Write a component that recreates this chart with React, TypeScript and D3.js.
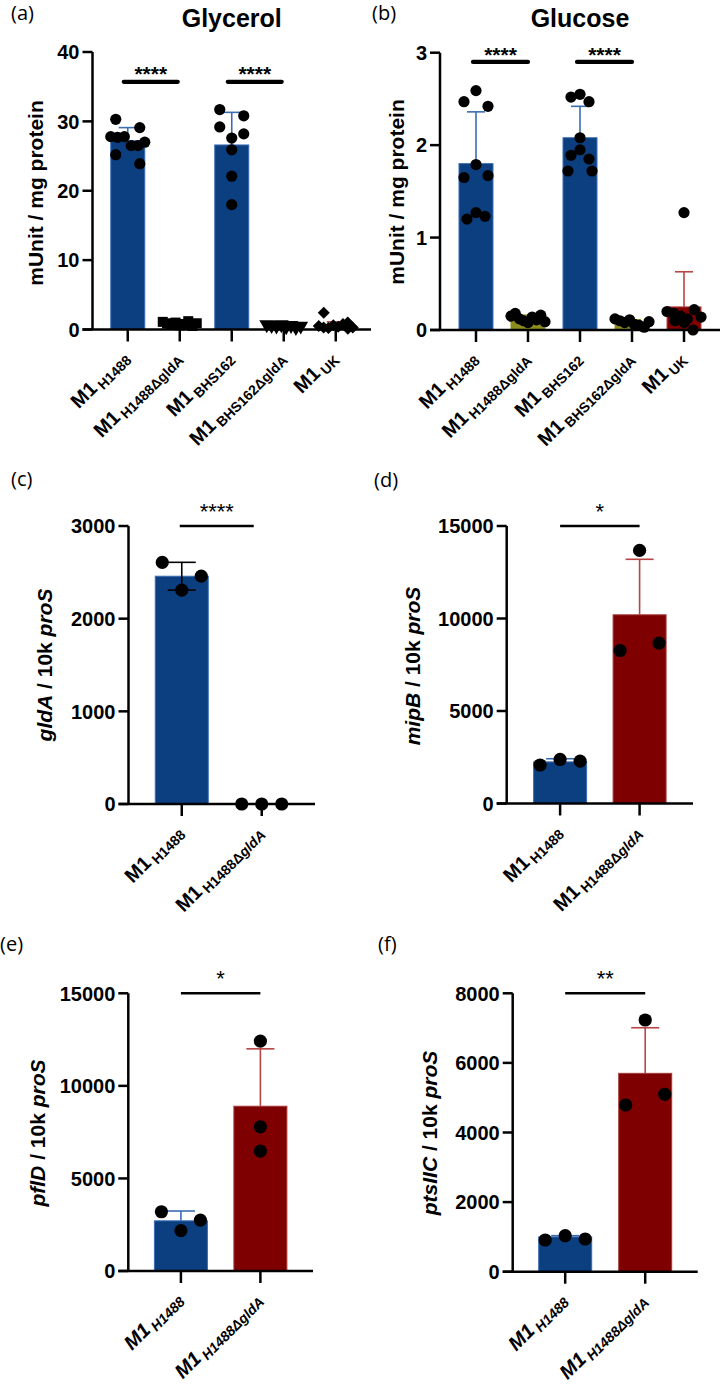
import React from 'react';
import * as d3 from 'd3';

const ARIAL = '"Liberation Sans", Arial, Helvetica, sans-serif';
const LETTER_FONT = '"Open Sans", "Noto Sans", sans-serif';
const BLUE = '#0b3f80';
const BLUE_LINE = '#3c6cb2';
const RED = '#7e0000';
const RED_LINE = '#b84444';
const OLIVE = '#8e8e1e';
const INK = '#000';

// ---------- Data: panels (a) and (b) ----------
const strainCategories = ['H1488', 'H1488ΔgldA', 'BHS162', 'BHS162ΔgldA', 'UK'];

const glycerolTicks = [0, 10, 20, 30, 40];
const glycerolMeans = [27.2, 0.85, 26.6, 0.55, 0.7];
const glycerolSD = [1.9, 0.25, 4.7, 0.15, 0.4];
const glycerolH1488 = [30.3, 29.1, 27.8, 27.7, 27.8, 26.5, 26.5, 25.2, 23.9, 27.0];
const glycerolH1488dgldA = [1.1, 0.9, 0.7, 1.0, 0.6, 0.8, 1.2, 0.5, 0.9];
const glycerolBHS162 = [31.7, 30.8, 29.2, 28.2, 27.6, 25.9, 22.1, 18.0];
const glycerolBHS162dgldA = [0.7, 0.6, 0.5, 0.7, 0.4, 0.6, 0.3, 0.5];
const glycerolUK = [2.4, 1.0, 0.5, 0.3, 0.2, 0.6, 0.4, 0.8, 0.1, 0.3];

const glucoseTicks = [0, 1, 2, 3];
const glucoseMeans = [1.8, 0.12, 2.08, 0.08, 0.25];
const glucoseSD = [0.56, 0.04, 0.34, 0.03, 0.38];
const glucoseH1488 = [2.59, 2.47, 2.42, 1.79, 1.65, 1.67, 1.2, 1.27, 1.23];
const glucoseH1488dgldA = [0.15, 0.18, 0.12, 0.1, 0.08, 0.14, 0.11, 0.16, 0.09];
const glucoseBHS162 = [2.52, 2.55, 2.47, 2.08, 1.89, 1.95, 1.85, 1.72, 1.72];
const glucoseBHS162dgldA = [0.12, 0.1, 0.08, 0.11, 0.06, 0.05, 0.03, 0.09];
const glucoseUK = [1.27, 0.2, 0.18, 0.15, 0.12, 0.1, 0.22, 0.08, 0.0, 0.14];

// ---------- Data: panels (c)-(f) ----------
const qpcrCategories = ['H1488', 'H1488ΔgldA'];

const gldATicks = [0, 1000, 2000, 3000];
const gldAMeans = [2458, 0];
const gldASD = [150, 0];
const gldAWT = [2607, 2308, 2459];
const gldAMut = [0, 0, 0];

const mipBTicks = [0, 5000, 10000, 15000];
const mipBMeans = [2250, 10200];
const mipBSD = [170, 3000];
const mipBWT = [2080, 2380, 2290];
const mipBMut = [8270, 13680, 8670];

const pflDTicks = [0, 5000, 10000, 15000];
const pflDMeans = [2710, 8900];
const pflDSD = [530, 3100];
const pflDWT = [3200, 2180, 2750];
const pflDMut = [7790, 12420, 6480];

const ptsIICTicks = [0, 2000, 4000, 6000, 8000];
const ptsIICMeans = [1000, 5700];
const ptsIICSD = [35, 1310];
const ptsIICWT = [911, 1034, 940];
const ptsIICMut = [4790, 7233, 5098];

type Shape = 'circle' | 'square' | 'triangle' | 'diamond';

interface PanelCfg {
  letter: string; letterX: number; letterY: number;
  title?: string;
  axisX: number; axisRight: number; yTop: number; yBottom: number;
  ticks: number[];
  cats: string[]; means: number[]; sds: number[]; points: number[][];
  colors: string[]; barStroke: string[]; errColors: string[]; errBoth: boolean; shapes: Shape[];
  padding: number; barW: number; dotR: number; capW: number;
  rowH: number; step: number; pairStep: number; maxHalf: number;
  sigPairs: [number, number][]; sigValue: number; sigText: string; sigBold: boolean;
  sigWidth: number; sigOff: [number, number]; starSize: number; starDy: number;
  ylabel: React.ReactNode; ylabelX: number; ylabelY: number;
  italicX: boolean;
}

function swarmOffsets(values: number[], y: (v: number) => number, rowH: number, step: number, pairStep: number, maxHalf: number): number[] {
  const idx = values.map((_, i) => i).sort((a, b) => y(values[a]) - y(values[b]));
  const offsets = new Array(values.length).fill(0);
  let row: number[] = [];
  let startY: number | null = null;
  const flush = () => {
    const r = [...row].sort((a, b) => a - b);
    const n = r.length;
    if (n === 1) offsets[r[0]] = 0;
    else if (n === 2) { offsets[r[0]] = -pairStep; offsets[r[1]] = pairStep; }
    else {
      const s = Math.min(step, (2 * maxHalf) / (n - 1));
      r.forEach((k, i) => { offsets[k] = (i - (n - 1) / 2) * s; });
    }
  };
  for (const k of idx) {
    const yy = y(values[k]);
    if (startY === null) { startY = yy; row = [k]; }
    else if (yy - startY < rowH) row.push(k);
    else { flush(); row = [k]; startY = yy; }
  }
  if (row.length) flush();
  return offsets;
}

function symbolPath(shape: Shape, r: number): { d: string; rot: number } {
  if (shape === 'circle') return { d: d3.symbol(d3.symbolCircle, Math.PI * r * r)() as string, rot: 0 };
  if (shape === 'square') return { d: d3.symbol(d3.symbolSquare, 100)() as string, rot: 0 };
  if (shape === 'triangle') return { d: d3.symbol(d3.symbolTriangle, 95)() as string, rot: 180 };
  return { d: d3.symbol(d3.symbolSquare, 72)() as string, rot: 45 };
}

function CatLabel({ name, italic }: { name: string; italic: boolean }) {
  const parts = name.split('Δ');
  return (
    <text textAnchor="end" fontFamily={ARIAL} fontWeight="bold" fontSize={20} fontStyle={italic ? 'italic' : 'normal'} fill={INK}>
      M1
      <tspan fontSize={14} dy={4} dx={3}>
        {parts[0]}
        {parts.length > 1 ? 'Δ' : ''}
        {parts.length > 1 ? <tspan fontStyle="italic">{parts[1]}</tspan> : null}
      </tspan>
    </text>
  );
}

function Panel({ c, uprightGene }: { c: PanelCfg; uprightGene?: boolean }) {
  const y = d3.scaleLinear().domain([0, c.ticks[c.ticks.length - 1]]).range([c.yBottom, c.yTop]);
  const x = d3.scalePoint<string>().domain(c.cats).range([c.axisX, c.axisRight]).padding(c.padding);
  const sigY = y(c.sigValue);
  return (
    <g>
      <text x={c.letterX} y={c.letterY} fontFamily={LETTER_FONT} fontSize={20} fill={INK}>{c.letter}</text>
      {c.title ? (
        <text x={x(c.cats[2])} y={27} textAnchor="middle" fontFamily={ARIAL} fontWeight="bold" fontSize={25} fill={INK}>{c.title}</text>
      ) : null}
      {/* bars */}
      {c.cats.map((cat, i) => {
        const cx = x(cat)!;
        const top = y(c.means[i]);
        return (
          <rect key={'b' + i} x={cx - c.barW / 2} y={top} width={c.barW} height={Math.max(0, c.yBottom - top)}
            fill={c.colors[i]} stroke={c.barStroke[i]} strokeWidth={1} />
        );
      })}
      {/* error bars */}
      {c.cats.map((cat, i) => {
        if (c.sds[i] <= 0) return null;
        const cx = x(cat)!;
        const yt = y(c.means[i] + c.sds[i]);
        const yb = c.errBoth ? y(c.means[i] - c.sds[i]) : y(c.means[i]);
        return (
          <g key={'e' + i} stroke={c.errColors[i]} strokeWidth={1.6} fill="none">
            <line x1={cx} x2={cx} y1={yt} y2={yb} />
            <line x1={cx - c.capW} x2={cx + c.capW} y1={yt} y2={yt} />
            {c.errBoth ? <line x1={cx - c.capW} x2={cx + c.capW} y1={yb} y2={yb} /> : null}
          </g>
        );
      })}
      {/* points */}
      {c.cats.map((cat, i) => {
        const cx = x(cat)!;
        const offs = swarmOffsets(c.points[i], y, c.rowH, c.step, c.pairStep, c.maxHalf);
        const sym = symbolPath(c.shapes[i], c.dotR);
        return (
          <g key={'p' + i}>
            {c.points[i].map((v, k) => (
              <path key={k} d={sym.d} fill={INK}
                transform={`translate(${cx + offs[k]},${y(v)}) rotate(${sym.rot})`} />
            ))}
          </g>
        );
      })}
      {/* axes */}
      <g stroke={INK} strokeWidth={2.5} fill="none">
        <line x1={c.axisX} x2={c.axisX} y1={c.yTop} y2={c.yBottom} />
        <line x1={c.axisX - 10} x2={c.axisRight} y1={c.yBottom} y2={c.yBottom} />
        {c.ticks.map((t) => (
          <line key={'t' + t} x1={c.axisX - 10} x2={c.axisX} y1={y(t)} y2={y(t)} />
        ))}
        {c.cats.map((cat) => (
          <line key={'xt' + cat} x1={x(cat)!} x2={x(cat)!} y1={c.yBottom} y2={c.yBottom + 12} />
        ))}
      </g>
      {c.ticks.map((t) => (
        <text key={'tl' + t} x={c.axisX - 13} y={y(t)} dy="0.36em" textAnchor="end" fontFamily={ARIAL}
          fontWeight="bold" fontSize={20} fill={INK}>{t}</text>
      ))}
      {/* category labels */}
      {c.cats.map((cat) => (
        <g key={'cl' + cat} transform={`translate(${x(cat)! + 2},${c.yBottom + 29}) rotate(-45)`}>
          {uprightGene ? (
            <text textAnchor="end" fontFamily={ARIAL} fontWeight="bold" fontSize={20} fill={INK}>
              M1<tspan fontSize={14} dy={4} dx={3}>{cat}</tspan>
            </text>
          ) : (
            <CatLabel name={cat} italic={c.italicX} />
          )}
        </g>
      ))}
      {/* y label */}
      <text transform={`translate(${c.ylabelX},${c.ylabelY}) rotate(-90)`} dy="0.36em" textAnchor="middle"
        fontFamily={ARIAL} fontWeight="bold" fontSize={21} fill={INK}>{c.ylabel}</text>
      {/* significance */}
      {c.sigPairs.map(([a, b], k) => {
        const x0 = x(c.cats[a])! + c.sigOff[0];
        const x1 = x(c.cats[b])! + c.sigOff[1];
        return (
          <g key={'s' + k}>
            <line x1={x0} x2={x1} y1={sigY} y2={sigY} stroke={INK} strokeWidth={c.sigWidth}
              strokeLinecap={c.sigBold ? 'round' : 'butt'} />
            <text x={(x0 + x1) / 2} y={sigY + c.starDy} textAnchor="middle" fontFamily={ARIAL}
              fontWeight={c.sigBold ? 'bold' : 'normal'} fontSize={c.starSize} fill={INK}>{c.sigText}</text>
          </g>
        );
      })}
    </g>
  );
}

const abCommon = {
  cats: strainCategories,
  colors: [BLUE, OLIVE, BLUE, OLIVE, RED],
  barStroke: [BLUE_LINE, OLIVE, BLUE_LINE, OLIVE, RED_LINE],
  errColors: [BLUE_LINE, OLIVE, BLUE_LINE, OLIVE, RED_LINE],
  errBoth: false,
  barW: 34, dotR: 5.6, capW: 9,
  rowH: 10.5, step: 9, pairStep: 12, maxHalf: 17,
  sigPairs: [[0, 1], [2, 3]] as [number, number][],
  sigText: '****', sigBold: true, sigWidth: 4.2, starSize: 21,
  italicX: false,
  ylabel: 'mUnit / mg protein',
};

const panelA: PanelCfg = {
  ...abCommon,
  letter: '(a)', letterX: 11, letterY: 19.5, title: 'Glycerol',
  axisX: 92.5, axisRight: 371, yTop: 52, yBottom: 329.5, padding: 0.678,
  ticks: glycerolTicks, means: glycerolMeans, sds: glycerolSD,
  points: [glycerolH1488, glycerolH1488dgldA, glycerolBHS162, glycerolBHS162dgldA, glycerolUK],
  shapes: ['circle', 'square', 'circle', 'triangle', 'diamond'],
  sigValue: 35.7, sigOff: [-4, -2], starDy: -0.5,
  ylabelX: 35, ylabelY: 193,
};

const panelB: PanelCfg = {
  ...abCommon,
  letter: '(b)', letterX: 372, letterY: 19.5, title: 'Glucose',
  axisX: 440, axisRight: 720, yTop: 52.7, yBottom: 330, padding: 0.692,
  ticks: glucoseTicks, means: glucoseMeans, sds: glucoseSD,
  points: [glucoseH1488, glucoseH1488dgldA, glucoseBHS162, glucoseBHS162dgldA, glucoseUK],
  shapes: ['circle', 'circle', 'circle', 'circle', 'circle'],
  sigValue: 2.9, sigOff: [-3, 0], starDy: 0,
  ylabelX: 396, ylabelY: 192,
};

const cdefCommon = {
  cats: qpcrCategories,
  colors: [BLUE, RED],
  barStroke: [BLUE_LINE, '#a53a3a'],
  errColors: [BLUE_LINE, RED_LINE],
  errBoth: false,
  barW: 53, dotR: 6.6, capW: 14,
  rowH: 15, step: 20, pairStep: 19.5, maxHalf: 20,
  shapes: ['circle', 'circle'] as Shape[],
  sigBold: false, sigWidth: 2.6, starSize: 22, starDy: -7.5,
  sigOff: [0, 0] as [number, number],
  italicX: false,
};

const panelC: PanelCfg = {
  ...cdefCommon,
  letter: '(c)', letterX: 11, letterY: 486,
  axisX: 128.5, axisRight: 315, yTop: 526, yBottom: 804, padding: 0.666,
  ticks: gldATicks, means: gldAMeans, sds: gldASD, points: [gldAWT, gldAMut],
  errColors: [INK, INK], errBoth: true,
  sigPairs: [[0, 1]], sigValue: 3000, sigText: '****', sigOff: [-2, -8],
  ylabel: <><tspan fontStyle="italic">gldA</tspan> / 10k <tspan fontStyle="italic">proS</tspan></>,
  ylabelX: 44, ylabelY: 665,
};

const panelD: PanelCfg = {
  ...cdefCommon,
  letter: '(d)', letterX: 374, letterY: 487,
  axisX: 506.7, axisRight: 693, yTop: 526, yBottom: 803.5, padding: 0.672,
  ticks: mipBTicks, means: mipBMeans, sds: mipBSD, points: [mipBWT, mipBMut],
  sigPairs: [[0, 1]], sigValue: 15000, sigText: '*',
  ylabel: <><tspan fontStyle="italic">mipB</tspan> / 10k <tspan fontStyle="italic">proS</tspan></>,
  ylabelX: 412, ylabelY: 666,
};

const panelE: PanelCfg = {
  ...cdefCommon,
  letter: '(e)', letterX: 0, letterY: 951,
  axisX: 128.3, axisRight: 313, yTop: 993.3, yBottom: 1271, padding: 0.662,
  ticks: pflDTicks, means: pflDMeans, sds: pflDSD, points: [pflDWT, pflDMut],
  sigPairs: [[0, 1]], sigValue: 15000, sigText: '*',
  italicX: true,
  ylabel: <><tspan fontStyle="italic">pflD</tspan> / 10k <tspan fontStyle="italic">proS</tspan></>,
  ylabelX: 37, ylabelY: 1133,
};

const panelF: PanelCfg = {
  ...cdefCommon,
  letter: '(f)', letterX: 378, letterY: 951,
  axisX: 512.7, axisRight: 697.7, yTop: 993.3, yBottom: 1271.7, padding: 0.656,
  ticks: ptsIICTicks, means: ptsIICMeans, sds: ptsIICSD, points: [ptsIICWT, ptsIICMut],
  sigPairs: [[0, 1]], sigValue: 8000, sigText: '**',
  italicX: true,
  ylabel: <><tspan fontStyle="italic">ptsIIC</tspan> / 10k <tspan fontStyle="italic">proS</tspan></>,
  ylabelX: 429, ylabelY: 1133,
};

export default function App() {
  return (
    <svg width={721} height={1388} viewBox="0 0 721 1388"
      style={{ position: 'absolute', left: 0, top: 0, background: '#fff' }}>
      <rect x={0} y={0} width={721} height={1388} fill="#fff" />
      <Panel c={panelA} uprightGene />
      <Panel c={panelB} uprightGene />
      <Panel c={panelC} />
      <Panel c={panelD} />
      <Panel c={panelE} />
      <Panel c={panelF} />
    </svg>
  );
}
